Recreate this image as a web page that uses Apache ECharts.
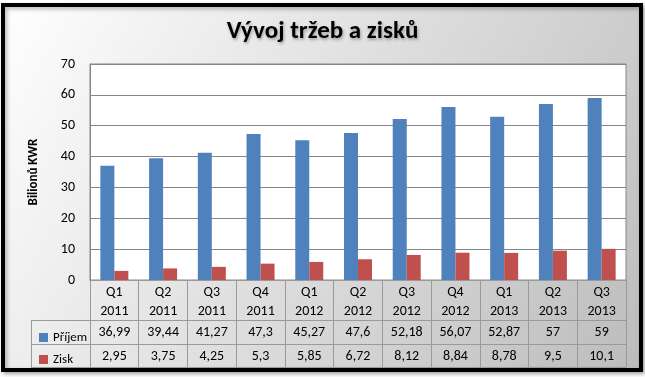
<!DOCTYPE html>
<html>
<head>
<meta charset="utf-8">
<script src="https://cdn.jsdelivr.net/npm/echarts@6/dist/echarts.min.js"></script>
<style>
  html, body { margin: 0; padding: 0; background: #fff; }
  #chart { width: 645px; height: 377px; }
</style>
</head>
<body>
<div id="chart"></div>
<script>
var quarters = ['Q1', 'Q2', 'Q3', 'Q4', 'Q1', 'Q2', 'Q3', 'Q4', 'Q1', 'Q2', 'Q3']
var years = ['2011', '2011', '2011', '2011', '2012', '2012', '2012', '2012', '2013', '2013', '2013']
var prijem = [36.99, 39.44, 41.27, 47.3, 45.27, 47.6, 52.18, 56.07, 52.87, 57, 59]
var zisk = [2.95, 3.75, 4.25, 5.3, 5.85, 6.72, 8.12, 8.84, 8.78, 9.5, 10.1]
var yTicks = [0, 10, 20, 30, 40, 50, 60, 70]

var font = 'Calibri, Carlito, Lato, sans-serif'
var lineGray = '#9a9a9a'

var categories = []
for (var i = 0; i < quarters.length; i++) {
    categories.push(quarters[i] + '\n' + years[i])
}

function fmt(v) {
    return String(v).replace('.', ',')
}

function tableAxis(offset, values) {
    return {
        type: 'category',
        data: categories,
        position: 'bottom',
        offset: offset,
        axisLine: { show: true, lineStyle: { color: lineGray } },
        axisTick: { show: false },
        axisLabel: {
            show: values != null,
            interval: 0,
            margin: 5,
            fontSize: 14,
            fontFamily: font,
            color: '#000',
            formatter: function (v, idx) { return values ? fmt(values[idx]) : '' }
        }
    }
}

var myChart = echarts.init(document.getElementById('chart'))

var option = {
    backgroundColor: '#fff',
    animation: false,
    color: ['#4f81bd', '#c0504d'],
    title: {
        text: 'Vývoj tržeb a zisků',
        left: 'center',
        top: 14,
        textStyle: {
            fontFamily: font,
            fontSize: 25,
            fontWeight: 'bold',
            color: '#000',
            textShadowColor: 'rgba(0,0,0,0.3)',
            textShadowBlur: 3,
            textShadowOffsetX: 1,
            textShadowOffsetY: 2
        }
    },
    legend: {
        orient: 'vertical',
        left: 34,
        top: 326,
        itemWidth: 9,
        itemHeight: 9,
        itemGap: 9,
        itemTextGap: 2,
        icon: 'rect',
        textStyle: { fontSize: 13, fontFamily: font, color: '#000' },
        data: ['Příjem', 'Zisk']
    },
    graphic: [
        {
            type: 'rect',
            z: -10,
            shape: { x: 3, y: 5, width: 638, height: 365 },
            style: {
                fill: {
                    type: 'linear', x: 0, y: 0, x2: 1, y2: 1,
                    colorStops: [
                        { offset: 0, color: '#ffffff' },
                        { offset: 1, color: '#bcbcbc' }
                    ]
                },
                stroke: '#000',
                lineWidth: 4,
                shadowColor: 'rgba(0,0,0,0.3)',
                shadowBlur: 4,
                shadowOffsetX: 2,
                shadowOffsetY: 2
            }
        },
        { type: 'line', shape: { x1: 31, y1: 320.5, x2: 90, y2: 320.5 }, style: { stroke: lineGray, lineWidth: 1 } },
        { type: 'line', shape: { x1: 31, y1: 344.5, x2: 90, y2: 344.5 }, style: { stroke: lineGray, lineWidth: 1 } },
        { type: 'line', shape: { x1: 31, y1: 367.5, x2: 90, y2: 367.5 }, style: { stroke: lineGray, lineWidth: 1 } },
        { type: 'line', shape: { x1: 31.5, y1: 320, x2: 31.5, y2: 368 }, style: { stroke: lineGray, lineWidth: 1 } }
    ],
    grid: {
        left: 90,
        right: 19,
        top: 64,
        bottom: 97,
        show: true,
        backgroundColor: '#fff',
        borderColor: '#868686',
        borderWidth: 1
    },
    xAxis: [
        {
            type: 'category',
            data: categories,
            axisLine: { lineStyle: { color: lineGray } },
            axisTick: { show: true, interval: 0, length: 87, lineStyle: { color: lineGray } },
            axisLabel: {
                interval: 0,
                margin: 3,
                fontSize: 14,
                lineHeight: 19,
                fontFamily: font,
                color: '#000'
            }
        },
        tableAxis(40, prijem),
        tableAxis(64, zisk),
        tableAxis(87, null)
    ],
    yAxis: {
        type: 'value',
        min: yTicks[0],
        max: yTicks[yTicks.length - 1],
        interval: 10,
        name: 'Bilionů KWR',
        nameLocation: 'middle',
        nameRotate: 90,
        nameGap: 50,
        nameTextStyle: { fontFamily: font, fontSize: 13, fontWeight: 'bold', color: '#000' },
        axisLine: { show: true, lineStyle: { color: '#868686' } },
        axisTick: { show: false },
        axisLabel: { margin: 15, fontSize: 14, fontFamily: font, color: '#000' },
        splitLine: { lineStyle: { color: '#868686' } }
    },
    series: [
        {
            name: 'Příjem',
            type: 'bar',
            barWidth: 14,
            barGap: '0%',
            data: prijem
        },
        {
            name: 'Zisk',
            type: 'bar',
            barWidth: 14,
            barGap: '0%',
            data: zisk
        }
    ]
}

myChart.setOption(option)
</script>
</body>
</html>
